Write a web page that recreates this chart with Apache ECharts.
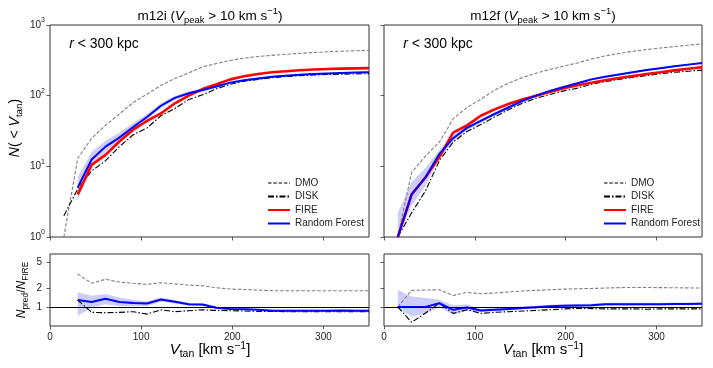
<!DOCTYPE html>
<html>
<head>
<meta charset="utf-8">
<script src="https://cdn.jsdelivr.net/npm/echarts@6/dist/echarts.min.js"></script>
<style>
html, body { margin: 0; padding: 0; background: #fff; }
#chart { width: 713px; height: 368px; }
</style>
</head>
<body>
<div id="chart"></div>
<script>
// V_tan grid (km/s)
var vtan = [15.2, 30.4, 45.7, 60.9, 76.1, 91.3, 106.5, 121.7, 137.0, 152.2, 167.4, 182.6,
            197.8, 213.0, 228.3, 243.5, 258.7, 273.9, 289.1, 304.3, 319.6, 334.8, 350.0];

// m12i : cumulative counts N(<V_tan)
var iDMO  = [1.0, 13, 25, 38, 55, 80, 105, 140, 175, 210, 255, 285, 315, 340, 358, 372, 385, 397, 408, 418, 426, 432, 437];
var iDISK = [2.0, 4.8, 8.6, 12, 19, 28, 35, 52, 66, 88, 103, 125, 145, 160, 170, 180, 186, 192, 196, 199, 201, 203, 205];
var iFIRE = [null, 4.0, 10.5, 14.5, 22.5, 33, 44, 56, 78, 100, 124, 145, 170, 188, 203, 214, 222, 229, 234, 238, 241, 243, 245];
var iRF   = [null, 5.0, 12.5, 19, 25.5, 36, 50, 72, 93, 108, 120, 135, 153, 165, 175, 185, 192, 198, 203, 206, 209, 212, 214];
var iRFhi = [null, 7, 16, 23, 30, 41, 55, 78, 100, 115, 128, 142, 160, 171, 181, 190, 197, 203, 208, 211, 214, 217, 219];
var iRFlo = [null, 3.3, 10, 16, 22, 32, 46, 67, 87, 102, 113, 129, 147, 159, 169, 180, 187, 193, 198, 201, 204, 207, 209];

// m12i : ratio N_pred / N_FIRE
var iDMOr   = [null, 3.3, 2.35, 2.72, 2.46, 2.35, 2.26, 2.4, 2.3, 2.21, 2.15, 2.0, 1.91, 1.88, 1.84, 1.8, 1.79, 1.79, 1.79, 1.79, 1.79, 1.79, 1.79];
var iDISKr  = [null, 1.28, 0.82, 0.81, 0.82, 0.84, 0.77, 0.9, 0.84, 0.87, 0.9, 0.88, 0.87, 0.86, 0.85, 0.85, 0.84, 0.84, 0.84, 0.84, 0.84, 0.84, 0.84];
var iRFr    = [null, 1.28, 1.19, 1.34, 1.19, 1.15, 1.13, 1.31, 1.2, 1.1, 1.09, 0.97, 0.93, 0.92, 0.9, 0.87, 0.87, 0.87, 0.87, 0.87, 0.88, 0.87, 0.87];
var iRFrHi  = [null, 1.7, 1.5, 1.6, 1.4, 1.3, 1.22, 1.4, 1.28, 1.15, 1.13, 1.01, 0.96, 0.95, 0.93, 0.9, 0.9, 0.9, 0.9, 0.9, 0.91, 0.9, 0.9];
var iRFrLo  = [null, 0.72, 0.98, 1.1, 1.02, 1.02, 1.03, 1.2, 1.13, 1.03, 1.03, 0.93, 0.9, 0.89, 0.87, 0.85, 0.85, 0.85, 0.85, 0.85, 0.85, 0.85, 0.85];

// m12f : cumulative counts
var fDMO  = [1.0, 8.2, 14, 22, 47, 68, 89, 120, 150, 180, 208, 235, 262, 290, 330, 365, 395, 425, 450, 472, 495, 518, 540];
var fDISK = [1.0, 2.2, 4.5, 12, 22, 31, 39, 50, 63, 78, 92, 104, 117, 128, 145, 158, 170, 182, 193, 204, 214, 222, 230];
var fFIRE = [1.0, 4.0, 7.0, 13.5, 30, 38, 52, 64, 76, 88, 100, 113, 127, 140, 152, 165, 178, 190, 203, 215, 228, 240, 252];
var fRF   = [1.0, 4.0, 7.0, 14.9, 25, 35, 44, 55, 68, 84, 100, 117, 133, 150, 170, 185, 200, 215, 230, 245, 260, 275, 290];
var fRFhi = [2.2, 6, 9.5, 17, 28, 38, 47, 58, 71, 88, 104, 121, 138, 156, 176, 191, 206, 221, 237, 252, 267, 283, 298];
var fRFlo = [1.0, 2.8, 5.3, 13, 22, 32, 41, 52, 65, 80, 96, 113, 128, 145, 164, 179, 194, 209, 223, 238, 253, 267, 282];

// m12f : ratio
var fDMOr  = [1.0, 1.82, 1.84, 1.86, 1.51, 1.69, 1.61, 1.65, 1.72, 1.78, 1.82, 1.86, 1.9, 1.93, 1.95, 1.98, 2.01, 2.02, 2.02, 2.01, 2.0, 1.99, 1.98];
var fDISKr = [1.0, 0.57, 0.8, 1.14, 0.79, 0.9, 0.79, 0.82, 0.84, 0.86, 0.88, 0.9, 0.93, 0.95, 0.94, 0.93, 0.93, 0.93, 0.92, 0.93, 0.93, 0.93, 0.93];
var fRFr   = [1.0, 1.0, 1.0, 1.14, 0.9, 0.98, 0.875, 0.9, 0.93, 0.96, 0.99, 1.02, 1.04, 1.05, 1.06, 1.1, 1.1, 1.1, 1.1, 1.1, 1.11, 1.11, 1.12];
var fRFrHi = [1.86, 1.46, 1.38, 1.29, 1.06, 1.1, 0.93, 0.96, 0.99, 1.02, 1.05, 1.08, 1.1, 1.11, 1.12, 1.16, 1.16, 1.16, 1.16, 1.16, 1.17, 1.17, 1.18];
var fRFrLo = [0.95, 0.7, 0.78, 0.98, 0.75, 0.87, 0.82, 0.85, 0.88, 0.91, 0.94, 0.97, 0.99, 1.0, 1.01, 1.05, 1.05, 1.05, 1.05, 1.05, 1.06, 1.06, 1.07];

var xTicks = [0, 100, 200, 300];
var ratioTicks = [1, 2, 5];
var legendNames = ['DMO', 'DISK', 'FIRE', 'Random Forest'];

var FONT = 'Liberation Sans';
var AXC = '#333';

function pairs(ys) {
    var res = [];
    for (var i = 0; i < vtan.length; i++) {
        if (ys[i] != null) res.push([vtan[i], ys[i]]);
    }
    return res;
}

// shaded band, drawn as one polygon through the axis scales
function band(lo, hi, idx) {
    var data = [];
    for (var i = 0; i < vtan.length; i++) {
        if (lo[i] != null) data.push([vtan[i], lo[i], hi[i]]);
    }
    return {
        type: 'custom',
        name: 'band',
        xAxisIndex: idx, yAxisIndex: idx,
        data: data,
        encode: {x: 0, y: [1, 2]},
        z: 1,
        renderItem: function (params, api) {
            if (params.dataIndex !== 0) return;
            var pts = [];
            for (var k = 0; k < data.length; k++) pts.push(api.coord([data[k][0], data[k][2]]));
            for (var k = data.length - 1; k >= 0; k--) pts.push(api.coord([data[k][0], data[k][1]]));
            return {type: 'polygon', shape: {points: pts}, style: {fill: 'rgba(90,90,235,0.3)'}};
        }
    };
}

function line(name, ys, idx, style) {
    return {
        type: 'line', name: name,
        xAxisIndex: idx, yAxisIndex: idx,
        data: pairs(ys),
        symbol: 'none', showSymbol: false,
        z: 3,
        color: style.color,
        lineStyle: style
    };
}

var sDMO  = {color: '#808080', width: 1.1, type: [3.5, 1.8]};
var sDISK = {color: '#000', width: 1.1, type: [6, 2, 1.5, 2]};
var sFIRE = {color: '#ff0000', width: 2.6};
var sRF   = {color: '#0000ff', width: 2};

var oneLine = {
    silent: true, symbol: ['none', 'none'],
    label: {show: false},
    lineStyle: {color: '#000', width: 1, type: 'solid'},
    data: [{yAxis: 1}]
};

var grids = [
    {left: 50, top: 25, width: 319, height: 212},
    {left: 384, top: 25, width: 318, height: 212},
    {left: 50, top: 254, width: 319, height: 72},
    {left: 384, top: 254, width: 318, height: 72}
];
grids.forEach(function (g) { g.show = true; g.borderColor = AXC; g.borderWidth = 1; });

function xAxis(idx, labels) {
    return {
        type: 'value', gridIndex: idx, min: 0, max: 350,
        axisLine: {show: false},
        axisTick: {show: true, length: 3.5, customValues: xTicks, lineStyle: {color: AXC, width: 0.8}},
        axisLabel: {show: labels, customValues: xTicks, fontSize: 10, color: '#222', fontFamily: FONT, margin: 6},
        splitLine: {show: false}
    };
}

var tickRich = {
    b: {fontSize: 10, lineHeight: 16, fontFamily: FONT, color: '#222'},
    sup: {fontSize: 7, lineHeight: 8, verticalAlign: 'top', fontFamily: FONT, color: '#222'}
};

function yTop(idx, labels) {
    return {
        type: 'log', logBase: 10, gridIndex: idx, min: 1, max: 1000,
        axisLine: {show: false},
        axisTick: {show: true, length: 3.5, lineStyle: {color: AXC, width: 0.8}},
        axisLabel: {
            show: labels, margin: 5,
            formatter: function (v) { return '{b|10}{sup|' + Math.round(Math.log10(v)) + '}'; },
            rich: tickRich
        },
        splitLine: {show: false}
    };
}

function yBot(idx, labels) {
    return {
        type: 'log', logBase: 10, gridIndex: idx, min: 0.5, max: 6.8,
        axisLine: {show: false},
        axisTick: {show: true, length: 3.5, customValues: ratioTicks, lineStyle: {color: AXC, width: 0.8}},
        axisLabel: {show: labels, customValues: ratioTicks, fontSize: 10, color: '#222', fontFamily: FONT, margin: 8},
        splitLine: {show: false}
    };
}

var mathRich = function (size) {
    return {
        n: {fontSize: size, lineHeight: size + 4, fontFamily: FONT, color: '#111'},
        i: {fontSize: size, lineHeight: size + 4, fontFamily: FONT, fontStyle: 'italic', color: '#111'},
        sub: {fontSize: size * 0.7, lineHeight: size * 0.75, verticalAlign: 'bottom', fontFamily: FONT, color: '#111'},
        sup: {fontSize: size * 0.7, lineHeight: size * 0.75, verticalAlign: 'top', fontFamily: FONT, color: '#111'}
    };
};

function txt(x, y, text, size, rot) {
    return {
        type: 'text', x: x, y: y, rotation: rot || 0, z: 10,
        style: {
            text: text, rich: mathRich(size),
            fontFamily: FONT, fontSize: size,
            align: 'center', verticalAlign: 'middle'
        }
    };
}

function legend(left) {
    return {
        left: left, top: 173, orient: 'vertical',
        itemWidth: 22, itemHeight: 10, itemGap: 3.5,
        selectedMode: false,
        data: legendNames,
        itemStyle: {opacity: 0},
        textStyle: {fontSize: 10, color: '#222', fontFamily: FONT}
    };
}

var myChart = echarts.init(document.getElementById('chart'));

var option = {
    animation: false,
    backgroundColor: '#fff',
    grid: grids,
    xAxis: [xAxis(0, false), xAxis(1, false), xAxis(2, true), xAxis(3, true)],
    yAxis: [yTop(0, true), yTop(1, false), yBot(2, true), yBot(3, false)],
    legend: [legend(262), legend(598)],
    graphic: [
        txt(210, 16, '{n|m12i (}{i|V}{sub|peak}{n| > 10 km s}{sup|−1}{n|)}', 13.5),
        txt(543, 16, '{n|m12f (}{i|V}{sub|peak}{n| > 10 km s}{sup|−1}{n|)}', 13.5),
        txt(104, 44, '{i|r}{n| < 300 kpc}', 14),
        txt(438, 44, '{i|r}{n| < 300 kpc}', 14),
        txt(15, 128, '{i|N}{n|( < }{i|V}{sub|tan}{n|)}', 14, Math.PI / 2),
        txt(22, 290, '{i|N}{sub|pred}{n|/}{i|N}{sub|FIRE}', 12, Math.PI / 2),
        txt(210, 350, '{i|V}{sub|tan}{n| [km s}{sup|−1}{n|]}', 15),
        txt(543, 350, '{i|V}{sub|tan}{n| [km s}{sup|−1}{n|]}', 15)
    ],
    series: [
        band(iRFlo, iRFhi, 0),
        line('DMO', iDMO, 0, sDMO),
        line('DISK', iDISK, 0, sDISK),
        line('FIRE', iFIRE, 0, sFIRE),
        line('Random Forest', iRF, 0, sRF),

        band(fRFlo, fRFhi, 1),
        line('DMO', fDMO, 1, sDMO),
        line('DISK', fDISK, 1, sDISK),
        line('FIRE', fFIRE, 1, sFIRE),
        line('Random Forest', fRF, 1, sRF),

        band(iRFrLo, iRFrHi, 2),
        line('DMO', iDMOr, 2, sDMO),
        Object.assign(line('DISK', iDISKr, 2, sDISK), {markLine: oneLine}),
        line('Random Forest', iRFr, 2, sRF),

        band(fRFrLo, fRFrHi, 3),
        line('DMO', fDMOr, 3, sDMO),
        Object.assign(line('DISK', fDISKr, 3, sDISK), {markLine: oneLine}),
        line('Random Forest', fRFr, 3, sRF)
    ]
};

myChart.setOption(option);
</script>
</body>
</html>
